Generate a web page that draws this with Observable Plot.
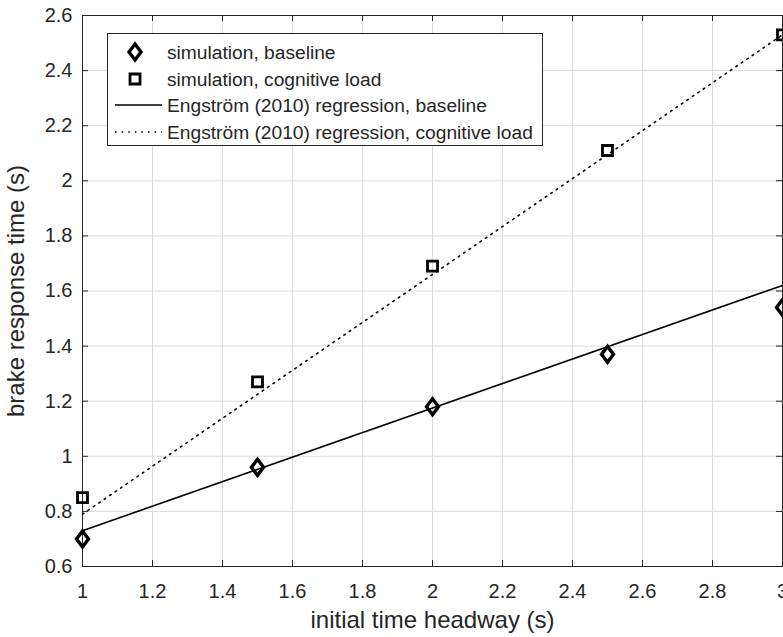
<!DOCTYPE html>
<html>
<head>
<meta charset="utf-8">
<script src="https://cdn.jsdelivr.net/npm/d3@7"></script>
<script src="https://cdn.jsdelivr.net/npm/@observablehq/plot@0.6"></script>
<style>
  html, body { margin: 0; padding: 0; background: #fff; }
  #wrap { position: relative; width: 783px; height: 637px; }
  #legend { position: absolute; left: 107px; top: 33px; }
</style>
</head>
<body>
<div id="wrap"><div id="chart"></div><div id="legend"></div></div>
<script>
// ---- data ----
const xTicks = [1, 1.2, 1.4, 1.6, 1.8, 2, 2.2, 2.4, 2.6, 2.8, 3];
const yTicks = [0.6, 0.8, 1, 1.2, 1.4, 1.6, 1.8, 2, 2.2, 2.4, 2.6];
const headway = [1, 1.5, 2, 2.5, 3];
const simBaseline = [0.70, 0.96, 1.18, 1.37, 1.54];
const simCognitive = [0.85, 1.27, 1.69, 2.11, 2.53];
const regX = [1, 3];
const regBaseline = [0.73, 1.62];
const regCognitive = [0.79, 2.53];
const legendLabels = [
  "simulation, baseline",
  "simulation, cognitive load",
  "Engström (2010) regression, baseline",
  "Engström (2010) regression, cognitive load"
];
const xLabel = "initial time headway (s)";
const yLabel = "brake response time (s)";

// ---- tables ----
const basePts = headway.map((x, i) => ({x, y: simBaseline[i]}));
const cogPts = headway.map((x, i) => ({x, y: simCognitive[i]}));
const regBase = regX.map((x, i) => ({x, y: regBaseline[i]}));
const regCog = regX.map((x, i) => ({x, y: regCognitive[i]}));

const INK = "#262626";
const GRID = "#dcdcdc";
const FONT = "'Liberation Sans', Arial, sans-serif";

const diamondSym = {draw(ctx, size) {
  const r = Math.sqrt(size / Math.PI), w = r * 0.75;
  ctx.moveTo(0, -r); ctx.lineTo(w, 0); ctx.lineTo(0, r); ctx.lineTo(-w, 0); ctx.closePath();
}};
const squareSym = {draw(ctx, size) {
  const r = Math.sqrt(size / Math.PI);
  ctx.rect(-r, -r, 2 * r, 2 * r);
}};

const W = 783, H = 637, mL = 82, mR = 1, mT = 15, mB = 71;
const innerH = H - mT - mB, innerW = W - mL - mR, tk = 6;

const chart = Plot.plot({
  width: W, height: H,
  marginLeft: mL, marginRight: mR, marginTop: mT, marginBottom: mB,
  style: {fontFamily: FONT, fontSize: "20px", color: INK, background: "#fff"},
  x: {domain: [1, 3]},
  y: {domain: [0.6, 2.6]},
  marks: [
    Plot.gridX(xTicks, {stroke: GRID, strokeOpacity: 1}),
    Plot.gridY(yTicks, {stroke: GRID, strokeOpacity: 1}),
    Plot.tickX(xTicks, {x: d => d, insetTop: innerH - tk, stroke: INK}),
    Plot.tickX(xTicks, {x: d => d, insetBottom: innerH - tk, stroke: INK}),
    Plot.tickY(yTicks, {y: d => d, insetRight: innerW - tk, stroke: INK}),
    Plot.tickY(yTicks, {y: d => d, insetLeft: innerW - tk, stroke: INK}),
    Plot.axisX(xTicks, {tickSize: 0, tickPadding: 17, tickFormat: d => `${d}`, label: null, fontSize: 20}),
    Plot.axisY(yTicks, {tickSize: 0, tickPadding: 10, tickFormat: d => `${d}`, label: null, fontSize: 20}),
    Plot.frame({stroke: INK}),
    Plot.line(regBase, {x: "x", y: "y", stroke: "#000", strokeWidth: 1.6}),
    Plot.line(regCog, {x: "x", y: "y", stroke: "#000", strokeWidth: 1.6, strokeDasharray: "1.6,5"}),
    Plot.dot(basePts, {x: "x", y: "y", symbol: diamondSym, r: 8, stroke: "#000", strokeWidth: 3.4, fill: "none"}),
    Plot.dot(cogPts, {x: "x", y: "y", symbol: squareSym, r: 5, stroke: "#000", strokeWidth: 2.8, fill: "none"}),
    Plot.text([xLabel], {frameAnchor: "bottom", lineAnchor: "middle", textAnchor: "middle", dy: 54, fontSize: 24, fill: INK}),
    Plot.text([yLabel], {frameAnchor: "left", lineAnchor: "middle", textAnchor: "middle", rotate: -90, dx: -66, fontSize: 24, fill: INK})
  ]
});
document.getElementById("chart").appendChild(chart);

// ---- legend ----
const LW = 436, LH = 113, rowY = [19, 46, 72, 99];
const lg = d3.select("#legend").append("svg")
  .attr("width", LW).attr("height", LH)
  .style("font-family", FONT).style("font-size", "19.2px");
lg.append("rect").attr("x", 0.5).attr("y", 0.5).attr("width", LW - 1).attr("height", LH - 1)
  .attr("fill", "#fff").attr("stroke", INK);
lg.append("path").attr("transform", `translate(28,${rowY[0]})`)
  .attr("d", d3.symbol(diamondSym, 64 * Math.PI)()).attr("fill", "none").attr("stroke", "#000").attr("stroke-width", 3.4);
lg.append("path").attr("transform", `translate(28,${rowY[1]})`)
  .attr("d", d3.symbol(squareSym, 25 * Math.PI)()).attr("fill", "none").attr("stroke", "#000").attr("stroke-width", 2.8);
lg.append("line").attr("x1", 8).attr("x2", 55).attr("y1", rowY[2]).attr("y2", rowY[2]).attr("stroke", "#000").attr("stroke-width", 1.6);
lg.append("line").attr("x1", 8).attr("x2", 55).attr("y1", rowY[3]).attr("y2", rowY[3]).attr("stroke", "#000").attr("stroke-width", 1.6).attr("stroke-dasharray", "1.6,5");
lg.selectAll("text.lbl").data(legendLabels).join("text").attr("class", "lbl")
  .attr("x", 60).attr("y", (d, i) => rowY[i]).attr("dy", "0.35em").attr("fill", INK).text(d => d);
</script>
</body>
</html>
